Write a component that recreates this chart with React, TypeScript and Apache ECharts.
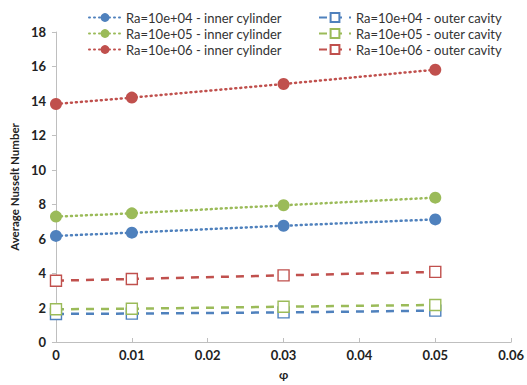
import React, { useEffect, useRef } from "react";
import * as echarts from "echarts";

// Volume fraction of nanoparticles
const phi = [0, 0.01, 0.03, 0.05];

// Average Nusselt number on the inner cylinder
const innerRa4 = [6.16, 6.35, 6.75, 7.12];
const innerRa5 = [7.28, 7.47, 7.94, 8.38];
const innerRa6 = [13.82, 14.19, 14.98, 15.81];

// Average Nusselt number on the outer cavity
const outerRa4 = [1.63, 1.65, 1.72, 1.82];
const outerRa5 = [1.9, 1.93, 2.05, 2.15];
const outerRa6 = [3.56, 3.66, 3.87, 4.07];

const innerNames = [
  "Ra=10e+04 - inner cylinder",
  "Ra=10e+05 - inner cylinder",
  "Ra=10e+06 - inner cylinder",
];
const outerNames = [
  "Ra=10e+04 - outer cavity",
  "Ra=10e+05 - outer cavity",
  "Ra=10e+06 - outer cavity",
];

const BLUE = "#4F81BD";
const GREEN = "#9BBB59";
const RED = "#C0504D";
const FONT = "Lato, 'Liberation Sans', sans-serif";

const pairs = (ys: number[]) => phi.map((x, i) => [x, ys[i]]);

export default function App() {
  const ref = useRef<HTMLDivElement>(null);

  useEffect(() => {
    if (!ref.current) return;
    const chart = echarts.init(ref.current, undefined, { renderer: "svg" });

    const inner = (name: string, ys: number[], color: string) => ({
      name,
      type: "line",
      data: pairs(ys),
      symbol: "circle",
      symbolSize: 12,
      itemStyle: { color, borderColor: color, borderWidth: 0 },
      lineStyle: { color, width: 2.5, type: [1, 4], cap: "round" },
      z: 3,
    });
    const outer = (name: string, ys: number[], color: string) => ({
      name,
      type: "line",
      data: pairs(ys),
      symbol: "rect",
      symbolSize: 11,
      itemStyle: { color: "#ffffff", borderColor: color, borderWidth: 1.4 },
      lineStyle: { color, width: 2.5, type: [8, 7] },
      z: 2,
    });

    const legendBase = {
      orient: "vertical",
      top: 6,
      itemGap: 3,
      itemWidth: 32,
      itemHeight: 11,
      textStyle: { fontFamily: FONT, fontSize: 13, color: "#333" },
    };

    chart.setOption({
      animation: false,
      backgroundColor: "#ffffff",
      grid: { left: 53, right: 12, top: 32, bottom: 43 },
      legend: [
        { ...legendBase, left: 83, data: innerNames },
        { ...legendBase, left: 313, data: outerNames },
      ],
      xAxis: {
        type: "value",
        min: 0,
        max: 0.06,
        interval: 0.01,
        name: "φ",
        nameLocation: "middle",
        nameGap: 26,
        nameTextStyle: { fontFamily: FONT, fontSize: 12, fontWeight: "bold", color: "#222" },
        axisLine: { show: true, lineStyle: { color: "#BFBFBF", width: 1 } },
        axisTick: { show: true, inside: true, length: 4, lineStyle: { color: "#BFBFBF" } },
        axisLabel: {
          margin: 6,
          fontFamily: FONT,
          fontSize: 13,
          fontWeight: "bold",
          color: "#222",
          formatter: (v: number) => String(+v.toFixed(2)),
        },
        splitLine: { show: false },
      },
      yAxis: {
        type: "value",
        min: 0,
        max: 18,
        interval: 2,
        name: "Average Nusselt Number",
        nameLocation: "middle",
        nameGap: 33,
        nameTextStyle: { fontFamily: FONT, fontSize: 11.5, fontWeight: "bold", color: "#222" },
        axisLine: { show: true, lineStyle: { color: "#BFBFBF", width: 1 } },
        axisTick: { show: true, length: 4, lineStyle: { color: "#BFBFBF" } },
        axisLabel: { margin: 10, fontFamily: FONT, fontSize: 13, fontWeight: "bold", color: "#222" },
        splitLine: { show: false },
      },
      series: [
        inner(innerNames[0], innerRa4, BLUE),
        inner(innerNames[1], innerRa5, GREEN),
        inner(innerNames[2], innerRa6, RED),
        outer(outerNames[0], outerRa4, BLUE),
        outer(outerNames[1], outerRa5, GREEN),
        outer(outerNames[2], outerRa6, RED),
      ],
    });

    return () => chart.dispose();
  }, []);

  return <div ref={ref} style={{ width: 527, height: 385, position: "absolute", left: 0, top: 0 }} />;
}
